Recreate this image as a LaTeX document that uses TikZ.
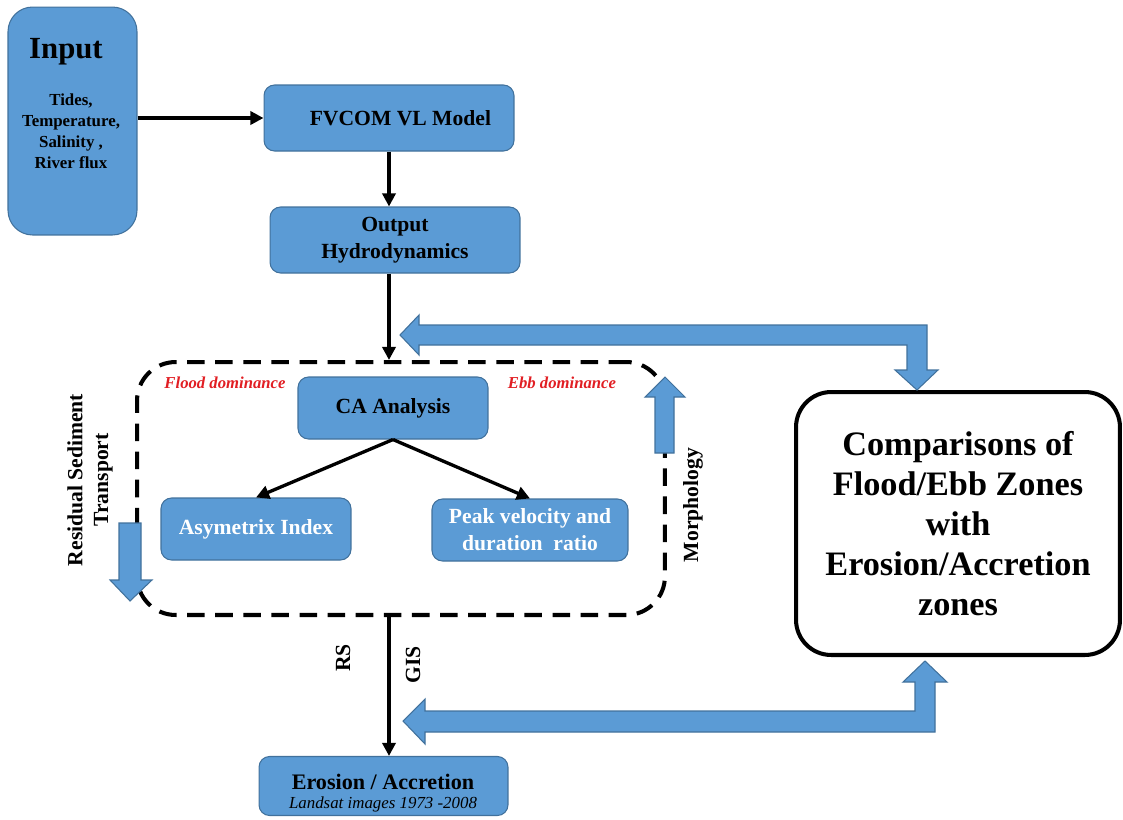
\documentclass[tikz,border=0pt]{standalone}
\usepackage{fontspec}
\setmainfont{Liberation Serif}
\usetikzlibrary{arrows.meta}
\definecolor{boxblue}{RGB}{91,155,213}
\definecolor{boxedge}{RGB}{65,113,156}
\definecolor{notered}{RGB}{225,30,35}
\begin{document}
\begin{tikzpicture}[x=0.02cm, y=-0.02cm,
    >={Triangle[length=7.5pt,width=7.5pt]},
    blockbox/.style={draw=boxedge, fill=boxblue, line width=0.6pt, rounded corners=6pt,
        inner sep=0pt, align=center, font=\bfseries\fontsize{12.3}{15.3}\selectfont},
    flow/.style={->, line width=1.9pt},
    bluearrow/.style={draw=boxedge, fill=boxblue, line width=0.6pt},
    note/.style={text=notered, font=\bfseries\itshape\fontsize{9.5}{11}\selectfont},
    sidelabel/.style={rotate=90, align=center, font=\bfseries\fontsize{12.3}{14.7}\selectfont}]
    \useasboundingbox (0,0) rectangle (1123,819);
    % input column
    \node[blockbox, rounded corners=14pt, minimum width=2.58cm, minimum height=4.56cm] (input) at (72.5,121) {};
    \node[font=\bfseries\fontsize{17.5}{20}\selectfont] (inputtitle) at (66,52) {Input};
    \node[align=center, font=\bfseries\fontsize{9.6}{11.9}\selectfont] (inputlist) at (71,131)
        {Tides,\\Temperature,\\Salinity ,\\River flux};
    % model chain
    \node[blockbox, minimum width=5cm, minimum height=1.32cm] (fvcom) at (389,118) {\hspace*{13pt}FVCOM VL Model};
    \node[blockbox, minimum width=5cm, minimum height=1.32cm] (output) at (395,240) {Output\\Hydrodynamics};
    \node[draw, line width=2.3pt, dash pattern=on 10pt off 6pt, rounded corners=22pt,
        minimum width=10.56cm, minimum height=5.06cm] (zone) at (401,488.5) {};
    \node[blockbox, minimum width=3.8cm, minimum height=1.24cm] (ca) at (393,408) {CA Analysis};
    \node[blockbox, text=white, minimum width=3.8cm, minimum height=1.24cm] (asym) at (256,529) {Asymetrix Index};
    \node[blockbox, text=white, minimum width=3.92cm, minimum height=1.24cm] (peak) at (530,530)
        {Peak velocity and\\duration\ \ ratio};
    \node[note] (flood) at (225,383) {Flood dominance};
    \node[note] (ebb) at (562,383) {Ebb dominance};
    \node[sidelabel] (residual) at (90,480) {Residual Sediment\\Transport};
    \node[sidelabel] (morph) at (693,505) {Morphology};
    % results
    \node[blockbox, minimum width=4.98cm, minimum height=1.18cm] (erosion) at (383.5,786) {};
    \node[align=center, font=\bfseries\fontsize{12.6}{12.6}\selectfont] (erosionlabel) at (383,793)
        {Erosion / Accretion\\[-1.5pt]{\mdseries\itshape\fontsize{9.6}{9.6}\selectfont Landsat images 1973 -2008}};
    \node[draw, fill=white, line width=2.3pt, rounded corners=20pt, minimum width=6.48cm, minimum height=5.26cm,
        align=center, font=\bfseries\fontsize{19.5}{22.7}\selectfont] (comp) at (958,523.5)
        {Comparisons of\\Flood/Ebb Zones\\with\\Erosion/Accretion\\zones};
    \node[sidelabel] (rs) at (343,658) {RS};
    \node[sidelabel] (gis) at (413,665) {GIS};
    % black flow arrows
    \draw[flow] (fvcom.west -| input.east) -- (fvcom.west);
    \draw[flow] (fvcom.south) -- (fvcom.south |- output.north);
    \draw[flow] (fvcom.south |- output.south) -- (fvcom.south |- zone.north);
    \draw[flow] (ca.south) -- (asym.north);
    \draw[flow] (ca.south) -- (peak.north);
    \draw[flow] (fvcom.south |- zone.south) -- (fvcom.south |- erosion.north);
    % blue block arrows
    \draw[bluearrow] (400,335) -- (419,315) -- (419,325) -- (927,325) -- (927,370) -- (938,370)
        -- (917,390) -- (895,370) -- (907,370) -- (907,345) -- (419,345) -- (419,355) -- cycle;
    \draw[bluearrow] (403,721) -- (425,699) -- (425,711) -- (915,711) -- (915,682) -- (903,682)
        -- (925,661) -- (947,682) -- (935,682) -- (935,732) -- (425,732) -- (425,744) -- cycle;
    \draw[bluearrow] (119,523) -- (141,523) -- (141,580) -- (152,580) -- (130,601) -- (110,580) -- (119,580) -- cycle;
    \draw[bluearrow] (655,453) -- (674,453) -- (674,397) -- (685,397) -- (665,377) -- (645,397) -- (655,397) -- cycle;
\end{tikzpicture}
\end{document}
